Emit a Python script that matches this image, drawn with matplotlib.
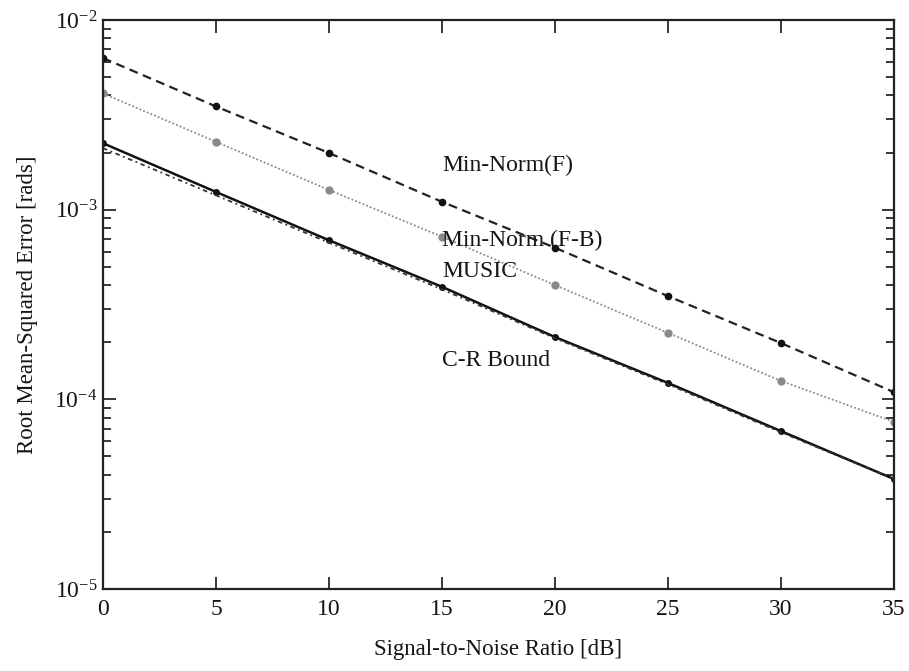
import numpy as np
import matplotlib
matplotlib.use("Agg")
import matplotlib.pyplot as plt
from matplotlib.ticker import LogLocator, FixedLocator, NullFormatter

plt.rcParams['font.family'] = ['Liberation Serif', 'DejaVu Serif']
plt.rcParams['mathtext.fontset'] = 'custom'
plt.rcParams['mathtext.rm'] = 'Liberation Serif'
plt.rcParams['mathtext.it'] = 'Liberation Serif'

# SNR grid (dB)
snr = [0, 5, 10, 15, 20, 25, 30, 35]

# RMSE values
min_norm_f = [6.3e-3, 3.5e-3, 1.99e-3, 1.10e-3, 6.3e-4, 3.5e-4, 1.98e-4, 1.09e-4]
min_norm_fb = [4.1e-3, 2.28e-3, 1.27e-3, 7.2e-4, 4.0e-4, 2.24e-4, 1.25e-4, 7.6e-5]
music = [2.24e-3, 1.24e-3, 6.9e-4, 3.92e-4, 2.13e-4, 1.22e-4, 6.8e-5, 3.8e-5]
crb = [2.11e-3, 1.19e-3, 6.7e-4, 3.8e-4, 2.1e-4, 1.2e-4, 6.7e-5, 3.8e-5]

labels = ["Min-Norm(F)", "Min-Norm (F-B)", "MUSIC", "C-R Bound"]
label_y = [1.72e-3, 6.9e-4, 4.7e-4, 1.61e-4]

x_ticks = [0, 5, 10, 15, 20, 25, 30, 35]
y_ticks = [1e-5, 1e-4, 1e-3, 1e-2]
y_ticklabels = [r'$10^{-5}$', r'$10^{-4}$', r'$10^{-3}$', r'$10^{-2}$']

ink = '#151515'

fig = plt.figure(figsize=(9.09, 6.71), dpi=100)
ax = fig.add_axes([0.1133, 0.1222, 0.8702, 0.848])

ax.plot(snr, min_norm_f, color='#222222', lw=1.6, ls=(0, (4, 2.5)),
        marker='o', ms=4.5, mfc='#111111', mec='#111111')
ax.plot(snr, min_norm_fb, color='#8a8a8a', lw=1.3, ls=(0, (1, 1.2)),
        marker='o', ms=5, mfc='#8a8a8a', mec='#8a8a8a')
ax.plot(snr, music, color='#111111', lw=1.8, ls='-',
        marker='o', ms=4, mfc='#111111', mec='#111111')
ax.plot(snr, crb, color='#333333', lw=1.3, ls=(0, (2.5, 2, 1, 2)))

for txt, yv in zip(labels, label_y):
    ax.text(15, yv, txt, fontsize=17, ha='left', va='center', color=ink)

ax.set_yscale('log')
ax.set_xlim(0, 35)
ax.set_ylim(1e-5, 1e-2)

ax.xaxis.set_major_locator(FixedLocator(x_ticks))
ax.yaxis.set_major_locator(FixedLocator(y_ticks))
ax.set_yticklabels(y_ticklabels)
ax.yaxis.set_minor_locator(LogLocator(base=10, subs=np.arange(2, 10)))
ax.yaxis.set_minor_formatter(NullFormatter())

ax.tick_params(which='both', direction='in', top=True, right=True,
               labelsize=17, colors=ink)
ax.tick_params(which='major', length=9, width=1.2)
ax.tick_params(which='minor', length=6, width=1.2)
ax.tick_params(axis='x', pad=7)
ax.tick_params(axis='y', pad=4)

for s in ax.spines.values():
    s.set_linewidth(1.6)
    s.set_color('#222222')

ax.set_xlabel("Signal-to-Noise Ratio [dB]", fontsize=16.5, labelpad=14, color=ink)
ax.set_ylabel("Root Mean-Squared Error [rads]", fontsize=16.5, labelpad=12, color=ink)

fig.savefig("out.png", dpi=100)
